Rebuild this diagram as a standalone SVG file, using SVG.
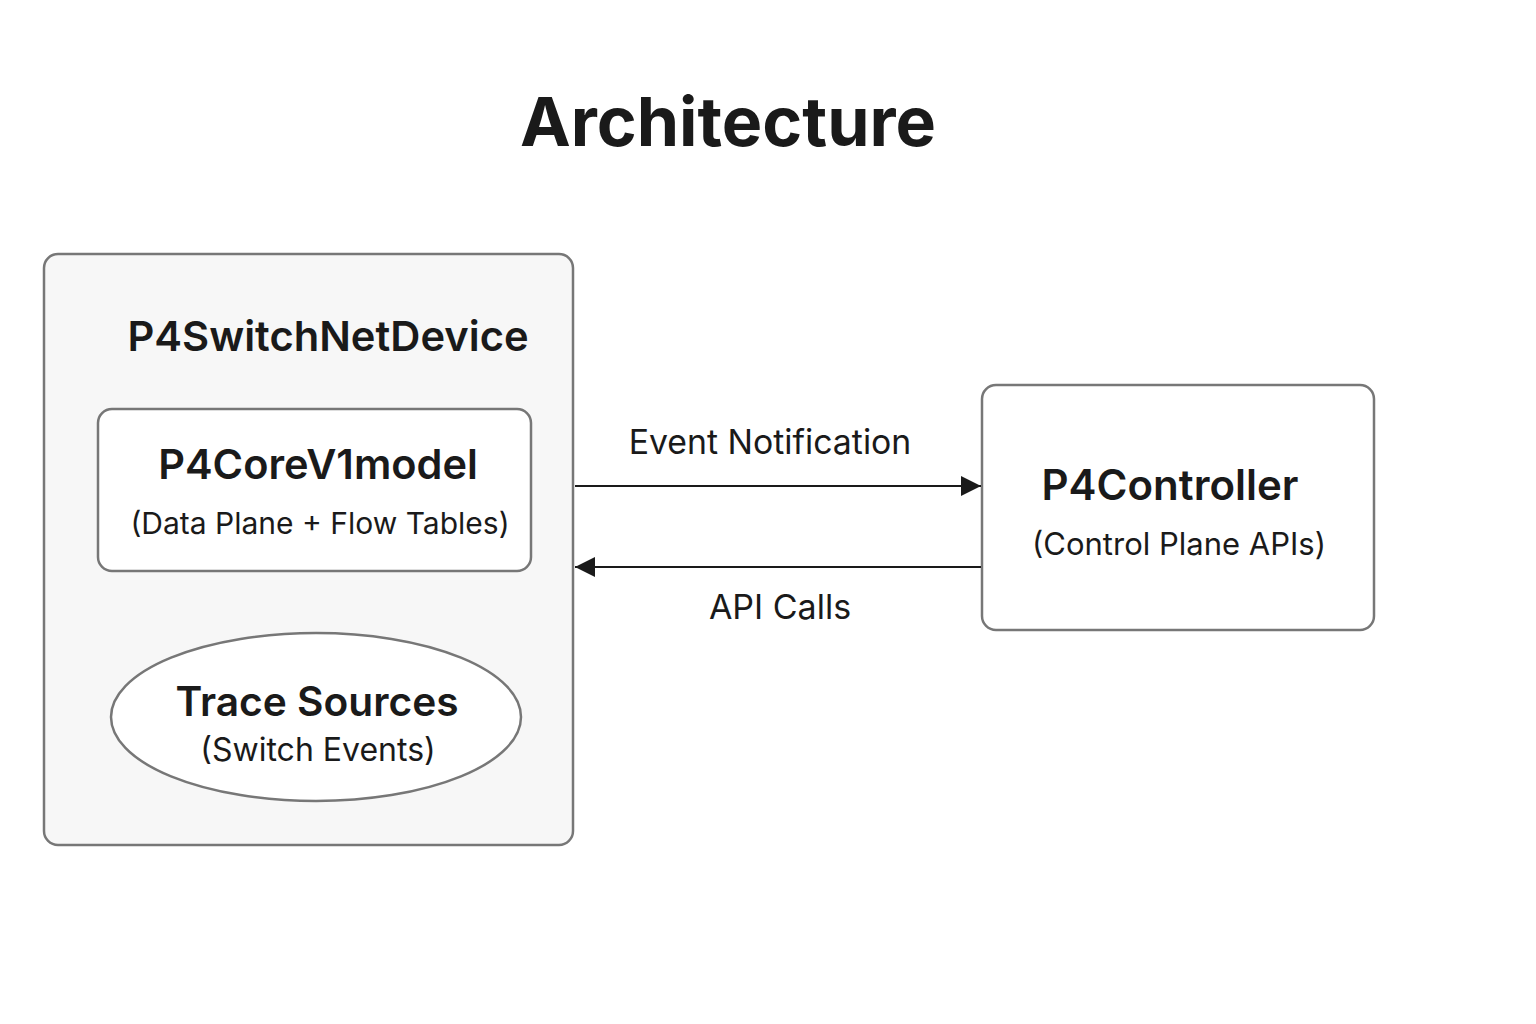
<svg xmlns="http://www.w3.org/2000/svg" width="1536" height="1024" viewBox="0 0 1536 1024">
<style>
.box{stroke:#777;stroke-width:2.5}
.t{font-family:Inter,"Liberation Sans",sans-serif;fill:#1a1a1a;text-anchor:middle}
.b{font-weight:600}
.conn{stroke:#1a1a1a;stroke-width:2;fill:none}
</style>
<defs>
<marker id="ah" viewBox="0 0 10 10" refX="10" refY="5" markerWidth="22" markerHeight="20" markerUnits="userSpaceOnUse" orient="auto">
<path d="M0,0 L10,5 L0,10 Z" fill="#1a1a1a"/>
</marker>
</defs>
<rect width="1536" height="1024" fill="#fff"/>
<text class="t" x="728" y="146" font-size="68" font-weight="700">Architecture</text>
<g id="p4switchnetdevice">
<rect class="box" x="44" y="254" width="529" height="591" rx="14" fill="#f7f7f7"/>
<text class="t b" x="328" y="351" font-size="41.7">P4SwitchNetDevice</text>
</g>
<g id="p4corev1model">
<rect class="box" x="98" y="409" width="433" height="162" rx="14" fill="#fff"/>
<text class="t b" x="318" y="479" font-size="41.5">P4CoreV1model</text>
<text class="t" x="320" y="534" font-size="30">(Data Plane + Flow Tables)</text>
</g>
<g id="tracesources">
<ellipse class="box" cx="316" cy="717" rx="205" ry="84" fill="#fff"/>
<text class="t b" x="317" y="716" font-size="40.7">Trace Sources</text>
<text class="t" x="318" y="761" font-size="32">(Switch Events)</text>
</g>
<g id="p4controller">
<rect class="box" x="982" y="385" width="392" height="245" rx="14" fill="#fff"/>
<text class="t b" x="1170" y="500" font-size="42">P4Controller</text>
<text class="t" x="1179" y="555" font-size="31">(Control Plane APIs)</text>
</g>
<g id="connectors">
<line class="conn" x1="575" y1="486" x2="981" y2="486" marker-end="url(#ah)"/>
<line class="conn" x1="981" y1="567" x2="575" y2="567" marker-end="url(#ah)"/>
<text class="t" x="770" y="454" font-size="33.8">Event Notification</text>
<text class="t" x="780" y="619" font-size="34">API Calls</text>
</g>
</svg>
